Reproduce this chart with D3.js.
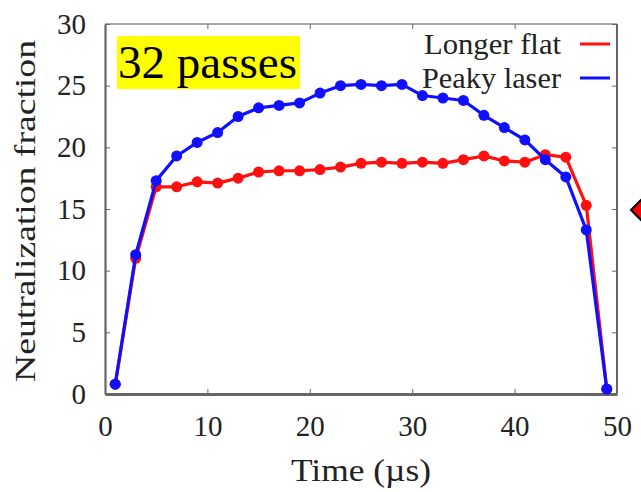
<!DOCTYPE html>
<meta charset="utf-8">
<style>
    body { margin: 0; background: #fff; }
    text { font-family: "Liberation Serif", "DejaVu Serif", serif; fill: #222; }
    .frame { fill: none; stroke: #555; }
</style>
<svg width="641" height="492"></svg>
<script src="https://cdn.jsdelivr.net/npm/d3@7"></script>
<script>
    // data
    var times = [1, 3, 5, 7, 9, 11, 13, 15, 17, 19, 21, 23, 25, 27, 29, 31, 33, 35, 37, 39, 41, 43, 45, 47, 49];
    var longerFlat = [0.8, 11.0, 16.8, 16.8, 17.2, 17.1, 17.5, 18.0, 18.1, 18.1, 18.2, 18.4, 18.7, 18.8, 18.7, 18.8, 18.7, 19.0, 19.3, 18.9, 18.8, 19.4, 19.2, 15.3, 0.4];
    var peakyLaser = [0.8, 11.3, 17.3, 19.3, 20.4, 21.2, 22.5, 23.2, 23.4, 23.6, 24.4, 25.0, 25.1, 25.0, 25.1, 24.2, 24.0, 23.8, 22.6, 21.6, 20.6, 19.0, 17.6, 13.3, 0.4];
    var xTicks = [0, 10, 20, 30, 40, 50];
    var yTicks = [0, 5, 10, 15, 20, 25, 30];
    var seriesNames = ['Longer flat', 'Peaky laser'];
    var seriesColors = ['#ff1010', '#1010ff'];

    var svg = d3.select('svg');
    var margin = { top: 24, right: 24, bottom: 98, left: 105 };
    var width = 641 - margin.left - margin.right,   // plot box 105..617
        height = 492 - margin.top - margin.bottom;  // plot box 24..394

    var x = d3.scaleLinear().domain([0, 50]).range([0, width]);
    var y = d3.scaleLinear().domain([0, 30]).range([height, 0]);

    var g = svg.append('g').attr('transform', 'translate(' + margin.left + ',' + margin.top + ')');

    // frame: thin top/right, heavier left/bottom
    g.append('line').attr('class', 'frame').attr('x1', 0).attr('x2', width).attr('y1', 0).attr('y2', 0).attr('stroke-width', 1.2);
    g.append('line').attr('class', 'frame').attr('x1', width).attr('x2', width).attr('y1', 0).attr('y2', height).attr('stroke-width', 1.8);

    // inward ticks on all four sides
    g.append('g').attr('transform', 'translate(0,' + height + ')')
        .call(d3.axisBottom(x).tickValues(xTicks).tickSizeInner(-5).tickSizeOuter(0).tickPadding(21))
        .call(a => a.select('.domain').attr('stroke', '#666').attr('stroke-width', 3))
        .call(a => a.selectAll('.tick line').attr('stroke', '#666').attr('stroke-width', 1))
        .call(a => a.selectAll('.tick text').attr('font-size', 29).style('font-family', 'Liberation Serif').attr('fill', '#333').attr('dy', '0.71em'));
    g.append('g')
        .call(d3.axisTop(x).tickValues(xTicks).tickSizeInner(-5).tickSizeOuter(0).tickFormat(''))
        .call(a => a.select('.domain').remove())
        .call(a => a.selectAll('.tick line').attr('stroke', '#666'));
    g.append('g')
        .call(d3.axisLeft(y).tickValues(yTicks).tickSizeInner(-5).tickSizeOuter(0).tickPadding(19))
        .call(a => a.select('.domain').attr('stroke', '#666').attr('stroke-width', 2.2))
        .call(a => a.selectAll('.tick line').attr('stroke', '#666'))
        .call(a => a.selectAll('.tick text').attr('font-size', 29).style('font-family', 'Liberation Serif').attr('fill', '#333'));
    g.append('g').attr('transform', 'translate(' + width + ',0)')
        .call(d3.axisRight(y).tickValues(yTicks).tickSizeInner(-5).tickSizeOuter(0).tickFormat(''))
        .call(a => a.select('.domain').remove())
        .call(a => a.selectAll('.tick line').attr('stroke', '#666'));

    // axis titles
    svg.append('text').attr('x', 361).attr('y', 481).attr('text-anchor', 'middle')
        .attr('font-size', 31).attr('textLength', 140).attr('lengthAdjust', 'spacingAndGlyphs')
        .text('Time (\u00b5s)');
    svg.append('text').attr('transform', 'translate(35,211) rotate(-90)').attr('text-anchor', 'middle')
        .attr('font-size', 30).attr('textLength', 342).attr('lengthAdjust', 'spacingAndGlyphs')
        .text('Neutralization fraction');

    // series: red first, blue on top
    var line = d3.line().x((d, i) => x(times[i])).y(d => y(d));
    [longerFlat, peakyLaser].forEach(function (vals, k) {
        g.append('path').datum(vals)
            .attr('fill', 'none').attr('stroke', seriesColors[k]).attr('stroke-width', 3.2)
            .attr('stroke-linejoin', 'round').attr('d', line);
        g.selectAll('.pt' + k).data(vals).enter().append('circle')
            .attr('class', 'pt' + k)
            .attr('cx', (d, i) => x(times[i])).attr('cy', d => y(d)).attr('r', 5.5)
            .attr('fill', seriesColors[k]);
    });

    // legend, top right
    seriesNames.forEach(function (name, k) {
        var ly = 44 + k * 34;
        svg.append('text').attr('x', 561).attr('y', ly + 10).attr('text-anchor', 'end')
            .attr('font-size', 29).attr('textLength', k ? 139 : 137).attr('lengthAdjust', 'spacingAndGlyphs')
            .text(name);
        svg.append('line').attr('x1', 580).attr('x2', 610).attr('y1', ly).attr('y2', ly)
            .attr('stroke', seriesColors[k]).attr('stroke-width', 3);
    });

    // yellow label
    svg.append('rect').attr('x', 117).attr('y', 36).attr('width', 183).attr('height', 53).attr('fill', '#ffff00');
    svg.append('text').attr('x', 118).attr('y', 78).attr('font-size', 47).style('fill', '#000')
        .attr('textLength', 179).attr('lengthAdjust', 'spacingAndGlyphs')
        .text('32 passes');

    // clipped diamond marker at the right edge
    svg.append('path').attr('d', 'M631,210 L643,198 L655,210 L643,222 Z')
        .attr('fill', '#ff0000').attr('stroke', '#000').attr('stroke-width', 2);
</script>
